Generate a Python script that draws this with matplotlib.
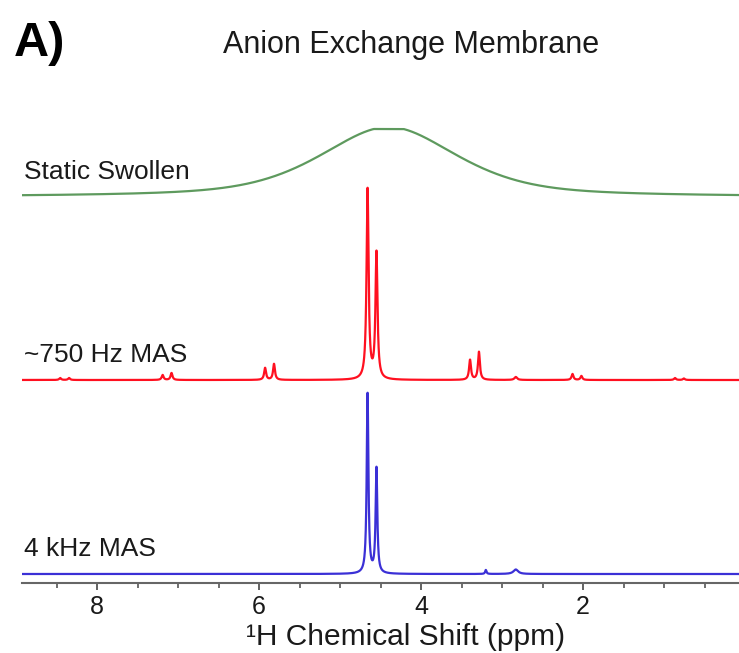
import numpy as np
import matplotlib
matplotlib.use('Agg')
from matplotlib import pyplot as plt
from matplotlib.ticker import MultipleLocator

plt.rcParams['font.family'] = ['Liberation Sans', 'DejaVu Sans']

# peak lists: position (ppm), height (a.u.), half width (ppm)
blue_ppm = [4.66, 4.55, 3.20, 2.83]
blue_height = [180, 105, 4, 4.5]
blue_width = [0.0125, 0.0125, 0.010, 0.035]

red_ppm = [4.66, 4.55, 5.925, 5.815, 3.395, 3.285, 7.19, 7.08,
           2.13, 2.02, 8.455, 8.345, 0.865, 0.755, 2.83]
red_height = [190, 126, 12, 16, 20, 28, 5, 7, 6, 4, 2, 2, 2, 1.5, 3]
red_width = [0.015, 0.015] + [0.014] * 12 + [0.02]

# broad static line: centre, height, half width, lorentzian fraction
green_ppm = 4.40
green_height = 70
green_plateau = 68
green_width = 1.0
green_eta = 0.55

labels = ['Static Swollen', '~750 Hz MAS', '4 kHz MAS']
offsets = [386, 203, 9]


def lorentz(x, x0, h, w):
    return h / (1 + ((x - x0) / w) ** 2)


def spectrum(x, ppm, height, width):
    y = np.zeros_like(x)
    for p, h, w in zip(ppm, height, width):
        y += lorentz(x, p, h, w)
    return y


def pseudo_voigt(x, x0, h, w, eta):
    l = 1 / (1 + ((x - x0) / w) ** 2)
    g = np.exp(-np.log(2) * ((x - x0) / w) ** 2)
    return h * (eta * l + (1 - eta) * g)


x = np.linspace(9.1, -0.3, 12000)
y_blue = spectrum(x, blue_ppm, blue_height, blue_width)
y_red = spectrum(x, red_ppm, red_height, red_width)
y_green = np.minimum(pseudo_voigt(x, green_ppm, green_height, green_width, green_eta),
                     green_plateau)

fig = plt.figure(figsize=(7.39, 6.53), dpi=100)
ax = fig.add_axes([22 / 739, 70 / 653, 730 / 739, 483 / 653])

colors = ['#5e9a5e', '#ff1020', '#3b30d6']
for y, off, c in zip([y_green, y_red, y_blue], offsets, colors):
    ax.plot(x, y + off, color=c, lw=1.6, solid_joinstyle='round')

for lab, off in zip(labels, offsets):
    ax.text(0.003, off + 25, lab, transform=ax.get_yaxis_transform(),
            fontsize=19, color='#1a1a1a', va='center', ha='left')

ax.set_xlim(8.926, -0.086)
ax.set_ylim(0, 483)
for s in ['top', 'left', 'right']:
    ax.spines[s].set_visible(False)
ax.spines['bottom'].set_color('#666666')
ax.spines['bottom'].set_linewidth(1.5)
ax.set_yticks([])
ax.xaxis.set_major_locator(MultipleLocator(2))
ax.xaxis.set_minor_locator(MultipleLocator(0.5))
ax.tick_params(axis='x', which='major', length=5, width=1.3, color='#555555',
               labelsize=18, pad=4, labelcolor='#1a1a1a')
ax.tick_params(axis='x', which='minor', length=3.5, width=1.2, color='#555555')
ax.set_xlabel('¹H Chemical Shift (ppm)', fontsize=21.5, color='#1a1a1a')
ax.xaxis.set_label_coords(0.525, -0.082)

fig.text(0.556, 1 - 45 / 653, 'Anion Exchange Membrane', fontsize=22,
         ha='center', va='center', color='#1a1a1a')
fig.text(14 / 739, 1 - 43 / 653, 'A)', fontsize=35, fontweight='bold',
         ha='left', va='center', color='black')

fig.savefig('out.png', dpi=100)
